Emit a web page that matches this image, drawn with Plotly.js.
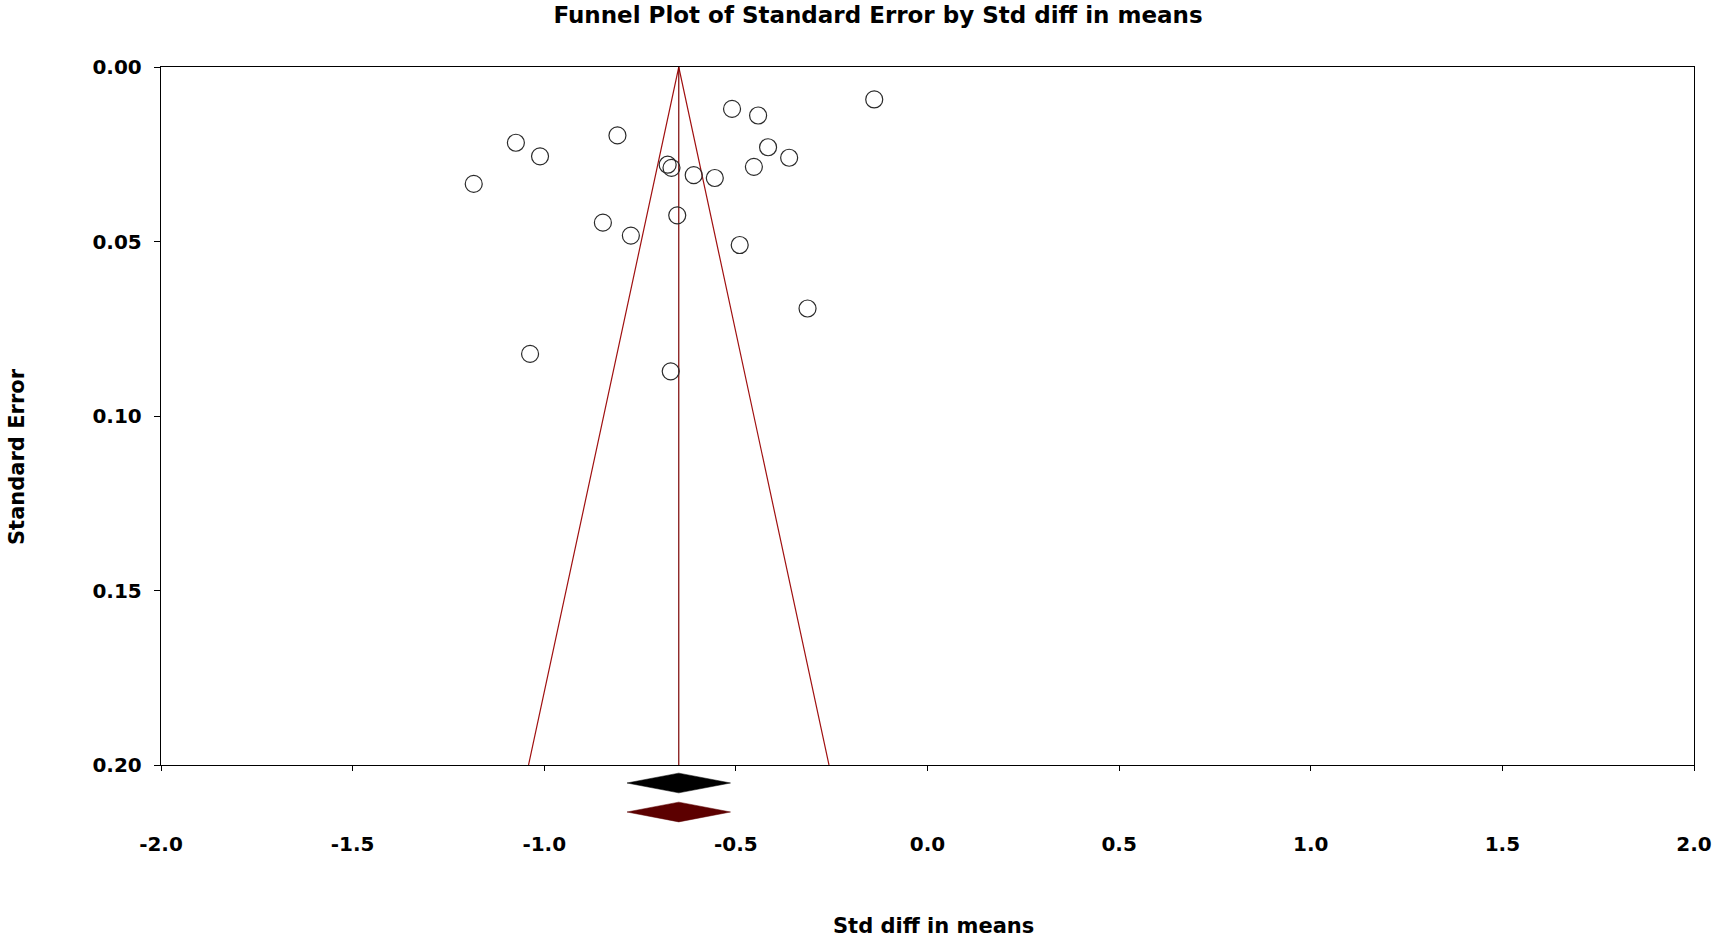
<!DOCTYPE html>
<html>
<head>
<meta charset="utf-8">
<script src="https://cdn.plot.ly/plotly-3.0.1.min.js"></script>
<style>html,body{margin:0;padding:0;background:#fff;}#chart{width:1717px;height:939px;}</style>
</head>
<body>
<div id="chart"></div>
<script>
// Study-level data
const studyEffect = [-0.139, -0.510, -0.442, -0.809, -1.074, -1.011, -0.416, -0.361, -0.678, -0.668, -0.453,
                     -0.610, -0.555, -1.184, -0.653, -0.847, -0.774, -0.490, -0.313, -1.037, -0.670];
const studySE     = [0.0093, 0.0120, 0.0139, 0.0196, 0.0217, 0.0256, 0.0230, 0.0260, 0.0280, 0.0289, 0.0286,
                     0.0310, 0.0318, 0.0335, 0.0425, 0.0446, 0.0483, 0.0510, 0.0692, 0.0822, 0.0872];

// Summary effect (observed and adjusted are identical here)
const summaryEstimate = -0.649;
const summaryLower = -0.784;
const summaryUpper = -0.514;

// Axis ticks
const xTickVals = [-2.0, -1.5, -1.0, -0.5, 0.0, 0.5, 1.0, 1.5, 2.0];
const xTickText = ['-2.0', '-1.5', '-1.0', '-0.5', '0.0', '0.5', '1.0', '1.5', '2.0'];
const yTickVals = [0.00, 0.05, 0.10, 0.15, 0.20];
const yTickText = ['0.00', '0.05', '0.10', '0.15', '0.20'];
const seMax = 0.20;

const FONT = 'DejaVu Sans, Liberation Sans, Arial, sans-serif';
const funnelHalf = 1.96 * seMax;

const traces = [
  // funnel (pseudo 95% limits)
  {x: [summaryEstimate - funnelHalf, summaryEstimate, summaryEstimate + funnelHalf],
   y: [seMax, 0, seMax], mode: 'lines', xaxis: 'x', yaxis: 'y',
   line: {color: '#A01010', width: 1.2}, hoverinfo: 'skip'},
  // summary vertical line
  {x: [summaryEstimate, summaryEstimate], y: [0, seMax], mode: 'lines', xaxis: 'x', yaxis: 'y',
   line: {color: '#7A0000', width: 1.2}, hoverinfo: 'skip'},
  // studies
  {x: studyEffect, y: studySE, mode: 'markers', xaxis: 'x', yaxis: 'y',
   marker: {symbol: 'circle-open', size: 17, color: '#2a2a2a', line: {width: 1.2}}},
  // observed summary diamond (black)
  {x: [summaryLower, summaryEstimate, summaryUpper, summaryEstimate, summaryLower],
   y: [2, 2.34, 2, 1.66, 2], mode: 'lines', fill: 'toself', xaxis: 'x', yaxis: 'y2',
   fillcolor: '#000000', line: {color: '#000000', width: 0.5}, hoverinfo: 'skip'},
  // adjusted summary diamond (dark red)
  {x: [summaryLower, summaryEstimate, summaryUpper, summaryEstimate, summaryLower],
   y: [1, 1.34, 1, 0.66, 1], mode: 'lines', fill: 'toself', xaxis: 'x', yaxis: 'y2',
   fillcolor: '#5C0000', line: {color: '#5C0000', width: 0.5}, hoverinfo: 'skip'}
];

const dy = 65 / 763;

const layout = {
  width: 1717, height: 939,
  margin: {l: 161, r: 23, t: 67, b: 109, pad: 0},
  paper_bgcolor: '#ffffff', plot_bgcolor: '#ffffff',
  showlegend: false, hovermode: false,
  font: {family: FONT, color: '#000000', weight: 'bold'},
  title: {text: 'Funnel Plot of Standard Error by Std diff in means',
          font: {family: FONT, size: 23, color: '#000000', weight: 'bold'},
          x: 878 / 1717, xref: 'container', xanchor: 'center',
          y: 1 - 15 / 939, yref: 'container', yanchor: 'middle'},
  xaxis: {range: [-2, 2], tickvals: xTickVals, ticktext: xTickText,
          ticks: 'outside', ticklen: 5, tickwidth: 1, tickcolor: '#000',
          showline: true, linecolor: '#000', linewidth: 1.2, mirror: true,
          showgrid: false, zeroline: false, anchor: 'y', fixedrange: true,
          ticklabelstandoff: 56,
          tickfont: {family: FONT, size: 20, color: '#000', weight: 'bold'}},
  yaxis: {domain: [dy, 1], range: [seMax, 0], tickvals: yTickVals, ticktext: yTickText,
          ticks: 'outside', ticklen: 6, tickwidth: 1, tickcolor: '#000',
          showline: true, linecolor: '#000', linewidth: 1.2, mirror: true,
          showgrid: false, zeroline: false, anchor: 'x', fixedrange: true,
          ticklabelstandoff: 8,
          tickfont: {family: FONT, size: 20, color: '#000', weight: 'bold'}},
  yaxis2: {domain: [0, dy], range: [0.38, 2.62], visible: false, anchor: 'x', fixedrange: true},
  annotations: [
    {text: 'Std diff in means', xref: 'paper', yref: 'paper', x: (933 - 161) / 1533, y: (830 - 926) / 763,
     xanchor: 'center', yanchor: 'middle', showarrow: false,
     font: {family: FONT, size: 21, color: '#000', weight: 'bold'}},
    {text: 'Standard Error', xref: 'paper', yref: 'paper', x: (17 - 161) / 1533, y: (830 - 457) / 763,
     xanchor: 'center', yanchor: 'middle', textangle: -90, showarrow: false,
     font: {family: FONT, size: 21, color: '#000', weight: 'bold'}}
  ]
};

Plotly.newPlot('chart', traces, layout, {displayModeBar: false, staticPlot: true});
</script>
</body>
</html>
